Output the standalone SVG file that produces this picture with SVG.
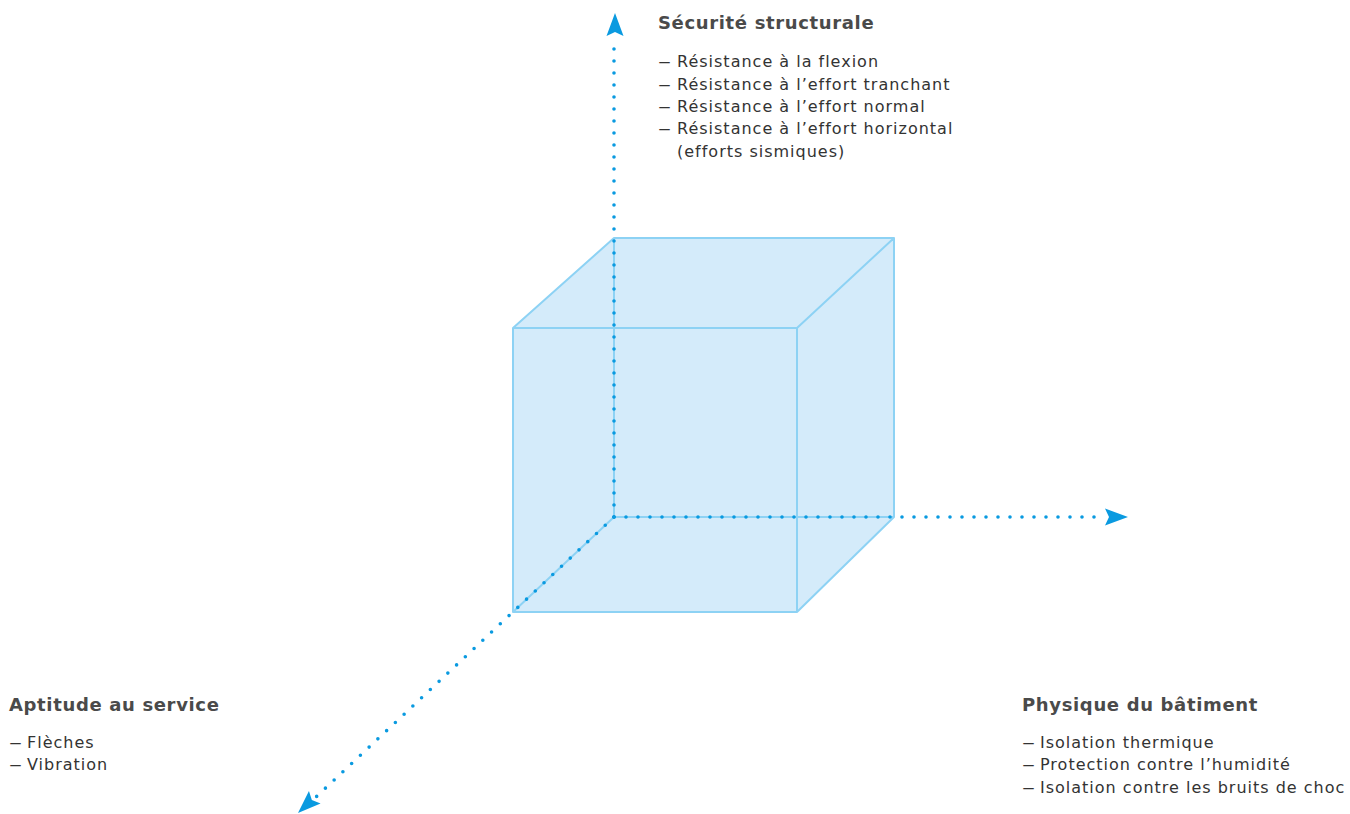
<svg xmlns="http://www.w3.org/2000/svg" width="1350" height="814" viewBox="0 0 1350 814">
<style>
.face{fill:#d4ebfa;stroke:none}
.edge{fill:none;stroke:#8dd2f4;stroke-width:2;stroke-linejoin:round}
.axis{fill:none;stroke:#0a9ae0;stroke-width:3.6;stroke-linecap:round;stroke-dasharray:0 12}
.head{fill:#0a9ae0}
.title{font-family:"DejaVu Sans",Inter,sans-serif;font-weight:700;font-size:18px;letter-spacing:0.65px;fill:#4a4a4a}
.item{font-family:"DejaVu Sans",Inter,sans-serif;font-size:16px;letter-spacing:1px;fill:#333}
.dash{font-family:"DejaVu Sans",Inter,sans-serif;font-size:16px;fill:#333}
</style>
<defs>
<path id="arrow" d="M0,0 L-23,-8.5 L-19,0 L-23,8.5 Z"/>
</defs>
<g id="cube">
<path class="face" d="M513,328 L614,238 L894,238 L894,517 L797,612 L513,612 Z"/>
<path class="edge" d="M614,238 L614,517 L894,517 M614,517 L513,612"/>
<path class="edge" d="M513,328 L797,328 L797,612 L513,612 Z M513,328 L614,238 L894,238 L797,328 M894,238 L894,517 L797,612"/>
</g>
<g id="connectors">
<path class="axis" d="M614,517 L614,41"/>
<path class="axis" d="M614,517 L1106,517"/>
<path class="axis" d="M614,517 L316,797"/>
<use href="#arrow" class="head" transform="translate(615,13) rotate(-90)"/>
<use href="#arrow" class="head" transform="translate(1128,517)"/>
<use href="#arrow" class="head" transform="translate(298,813) rotate(136.8)"/>
</g>
<g id="node-securite">
<text class="title" x="658" y="29">Sécurité structurale</text>
<text class="dash" x="658" y="67" textLength="13" lengthAdjust="spacingAndGlyphs">–</text>
<text class="item" x="677" y="67">Résistance à la flexion</text>
<text class="dash" x="658" y="90" textLength="13" lengthAdjust="spacingAndGlyphs">–</text>
<text class="item" x="677" y="90">Résistance à l’effort tranchant</text>
<text class="dash" x="658" y="112" textLength="13" lengthAdjust="spacingAndGlyphs">–</text>
<text class="item" x="677" y="112">Résistance à l’effort normal</text>
<text class="dash" x="658" y="134" textLength="13" lengthAdjust="spacingAndGlyphs">–</text>
<text class="item" x="677" y="134">Résistance à l’effort horizontal</text>
<text class="item" x="677" y="157">(efforts sismiques)</text>
</g>
<g id="node-aptitude">
<text class="title" x="9" y="711">Aptitude au service</text>
<text class="dash" x="9" y="748" textLength="13" lengthAdjust="spacingAndGlyphs">–</text>
<text class="item" x="27" y="748">Flèches</text>
<text class="dash" x="9" y="770" textLength="13" lengthAdjust="spacingAndGlyphs">–</text>
<text class="item" x="27" y="770">Vibration</text>
</g>
<g id="node-physique">
<text class="title" x="1022" y="711">Physique du bâtiment</text>
<text class="dash" x="1022" y="748" textLength="13" lengthAdjust="spacingAndGlyphs">–</text>
<text class="item" x="1040" y="748">Isolation thermique</text>
<text class="dash" x="1022" y="770" textLength="13" lengthAdjust="spacingAndGlyphs">–</text>
<text class="item" x="1040" y="770">Protection contre l’humidité</text>
<text class="dash" x="1022" y="793" textLength="13" lengthAdjust="spacingAndGlyphs">–</text>
<text class="item" x="1040" y="793">Isolation contre les bruits de choc</text>
</g>
</svg>
